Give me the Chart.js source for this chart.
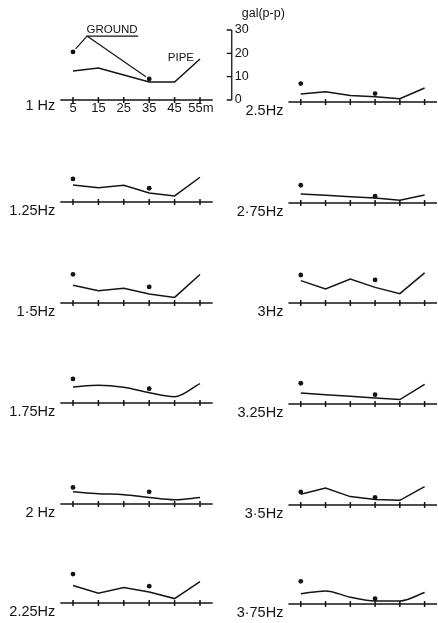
<!DOCTYPE html>
<html>
<head>
<meta charset="utf-8">
<script src="https://cdn.jsdelivr.net/npm/chart.js@4.4.0/dist/chart.umd.min.js"></script>
<style>
  html, body { margin: 0; padding: 0; background: #fff; overflow: hidden; }
  body { width: 438px; height: 623px; position: relative; }
  canvas { position: absolute; }
</style>
</head>
<body>
<script>
// measuring points along the pipe (m)
const distances = [5, 15, 25, 35, 45, 55];
const distanceLabels = ['5', '15', '25', '35', '45', '55m'];
const groundDistances = [5, 35];
const galTicks = [0, 10, 20, 30];

const freqLabels = ['1 Hz', '1.25Hz', '1·5Hz', '1.75Hz', '2 Hz', '2.25Hz',
                    '2.5Hz', '2·75Hz', '3Hz', '3.25Hz', '3·5Hz', '3·75Hz'];

// pipe response, gal (p-p)
const pipe100 = [12.4, 13.7, 10.7, 7.7, 7.7, 17.6];
const pipe125 = [7.3, 6.1, 7.2, 3.9, 2.6, 10.6];
const pipe150 = [7.6, 5.3, 6.3, 3.9, 2.4, 12.2];
const pipe175 = [6.9, 7.6, 6.7, 4.4, 2.7, 8.3];
const pipe200 = [5.2, 4.4, 4.0, 2.8, 1.8, 2.8];
const pipe225 = [7.5, 4.2, 6.6, 4.7, 1.9, 9.2];
const pipe250 = [3.4, 4.4, 2.8, 2.3, 1.4, 6.0];
const pipe275 = [3.9, 3.3, 2.7, 2.1, 1.2, 3.4];
const pipe300 = [9.6, 6.0, 10.3, 6.7, 4.0, 12.9];
const pipe325 = [4.7, 4.0, 3.3, 2.6, 1.9, 8.4];
const pipe350 = [4.6, 7.3, 3.6, 2.4, 2.0, 7.9];
const pipe375 = [4.4, 5.6, 2.9, 1.3, 1.3, 4.9];

// ground response at 5 m and 35 m
const ground100 = [20.6, 9.0];
const ground125 = [9.9, 5.9];
const ground150 = [12.3, 6.9];
const ground175 = [10.3, 6.1];
const ground200 = [7.1, 5.2];
const ground225 = [12.4, 7.2];
const ground250 = [7.9, 3.6];
const ground275 = [7.6, 2.9];
const ground300 = [12.0, 9.9];
const ground325 = [8.9, 4.0];
const ground350 = [5.6, 3.3];
const ground375 = [9.7, 2.3];

const pipeSeries = [pipe100, pipe125, pipe150, pipe175, pipe200, pipe225,
                    pipe250, pipe275, pipe300, pipe325, pipe350, pipe375];
const groundSeries = [ground100, ground125, ground150, ground175, ground200, ground225,
                      ground250, ground275, ground300, ground325, ground350, ground375];

// layout
const axisRows = [[100, 202, 303, 403, 504, 603], [102, 203, 303, 404, 505, 604]];
const colX = [0, 219];
const padLeft = [60.3, 69.4];
const smoothPanels = [3, 4, 11];   // drawn as curves instead of straight segments
const galAxisAt = 67.5;   // x value (m) where the gal scale stands
const INK = '#141414';

const panelDecor = {
  id: 'panelDecor',
  beforeDatasetsDraw(chart, args, opts) {
    const { ctx, scales: { x, y } } = chart;
    const y0 = y.getPixelForValue(0);
    ctx.save();
    ctx.strokeStyle = INK;
    ctx.lineWidth = 1.5;
    ctx.beginPath();
    ctx.moveTo(x.getPixelForValue(x.min), y0);
    ctx.lineTo(x.getPixelForValue(x.max), y0);
    distances.forEach(d => {
      const px = x.getPixelForValue(d);
      ctx.moveTo(px, y0 - 3);
      ctx.lineTo(px, y0 + 3);
    });
    ctx.stroke();
    ctx.restore();
  },
  afterDraw(chart, args, opts) {
    const { ctx, scales: { x, y } } = chart;
    const y0 = y.getPixelForValue(0);
    ctx.save();
    ctx.fillStyle = INK;
    ctx.strokeStyle = INK;
    ctx.font = '14.5px "Liberation Sans", Arial, sans-serif';
    ctx.textAlign = 'right';
    ctx.textBaseline = 'middle';
    ctx.fillText(opts.label, x.getPixelForValue(0) - 5, y0 + (opts.first ? 6 : 8.5));

    if (opts.first) {
      // distance ticks
      ctx.font = '13px "Liberation Sans", Arial, sans-serif';
      ctx.textAlign = 'center';
      distances.forEach((d, k) => ctx.fillText(distanceLabels[k], x.getPixelForValue(d) + (k === 5 ? 1 : 0), y0 + 8));

      // gal (p-p) scale
      const gx = x.getPixelForValue(galAxisAt);
      ctx.lineWidth = 1.3;
      ctx.beginPath();
      ctx.moveTo(gx, y.getPixelForValue(0));
      ctx.lineTo(gx, y.getPixelForValue(30));
      galTicks.forEach(t => {
        const py = y.getPixelForValue(t);
        ctx.moveTo(gx - 5, py);
        ctx.lineTo(gx, py);
      });
      ctx.stroke();
      ctx.font = '12.5px "Liberation Sans", Arial, sans-serif';
      ctx.textAlign = 'left';
      galTicks.forEach(t => ctx.fillText(String(t), gx + 3, y.getPixelForValue(t)));
      ctx.fillText('gal(p-p)', gx + 10, y.getPixelForValue(30) - 16);

      // GROUND label with leaders to the ground points
      ctx.font = '11.5px "Liberation Sans", Arial, sans-serif';
      ctx.textAlign = 'center';
      const gcx = x.getPixelForValue(20.4);
      const gcy = y.getPixelForValue(30.2);
      ctx.fillText('GROUND', gcx, gcy);
      const ul = y.getPixelForValue(27.4);
      const ax = x.getPixelForValue(10.5);
      ctx.lineWidth = 1.2;
      ctx.beginPath();
      ctx.moveTo(gcx - 26, ul);
      ctx.lineTo(gcx + 26, ul);
      const g = opts.ground;
      groundDistances.forEach((d, k) => {
        const px = x.getPixelForValue(d), py = y.getPixelForValue(g[k]);
        const dx = px - ax, dy = py - ul, len = Math.hypot(dx, dy);
        ctx.moveTo(ax, ul);
        ctx.lineTo(ax + dx * (len - 4) / len, ul + dy * (len - 4) / len);
      });
      ctx.stroke();

      // PIPE label beside the end of the pipe line
      ctx.textAlign = 'right';
      const p = opts.pipe;
      ctx.fillText('PIPE', x.getPixelForValue(55) - 6, y.getPixelForValue(p[5]) - 1);
    }
    ctx.restore();
  }
};

for (let i = 0; i < 12; i++) {
  const col = i < 6 ? 0 : 1;
  const axisY = axisRows[col][i % 6];
  const first = i === 0;
  const canvas = document.createElement('canvas');
  const w = first ? 320 : (col === 0 ? 219 : 222);
  const top = first ? 0 : axisY - 78;
  const h = first ? 122 : 98;
  const padTop = axisY - 70 - top;
  canvas.width = w;
  canvas.height = h;
  canvas.style.left = colX[col] + 'px';
  canvas.style.top = top + 'px';
  document.body.appendChild(canvas);

  const smooth = smoothPanels.includes(i);
  const chartRight = padLeft[col] + 152.4;
  new Chart(canvas, {
    data: {
      datasets: [
        {
          type: 'line',
          data: distances.map((d, k) => ({ x: d, y: pipeSeries[i][k] })),
          borderColor: INK,
          borderWidth: 1.5,
          pointRadius: 0,
          cubicInterpolationMode: smooth ? 'monotone' : 'default',
          tension: 0,
          fill: false
        },
        {
          type: 'scatter',
          data: groundDistances.map((d, k) => ({ x: d, y: groundSeries[i][k] })),
          pointRadius: 2.4,
          pointBackgroundColor: INK,
          pointBorderColor: INK,
          pointBorderWidth: 0
        }
      ]
    },
    options: {
      responsive: false,
      animation: false,
      devicePixelRatio: 1,
      layout: { padding: { left: padLeft[col], right: w - chartRight, top: padTop, bottom: h - padTop - 70 } },
      scales: {
        x: { type: 'linear', min: 0, max: 60, display: false },
        y: { type: 'linear', min: 0, max: 30, display: false }
      },
      plugins: {
        legend: { display: false },
        tooltip: { enabled: false },
        panelDecor: { label: freqLabels[i], first, ground: groundSeries[i], pipe: pipeSeries[i] }
      }
    },
    plugins: [panelDecor]
  });
}
</script>
</body>
</html>
